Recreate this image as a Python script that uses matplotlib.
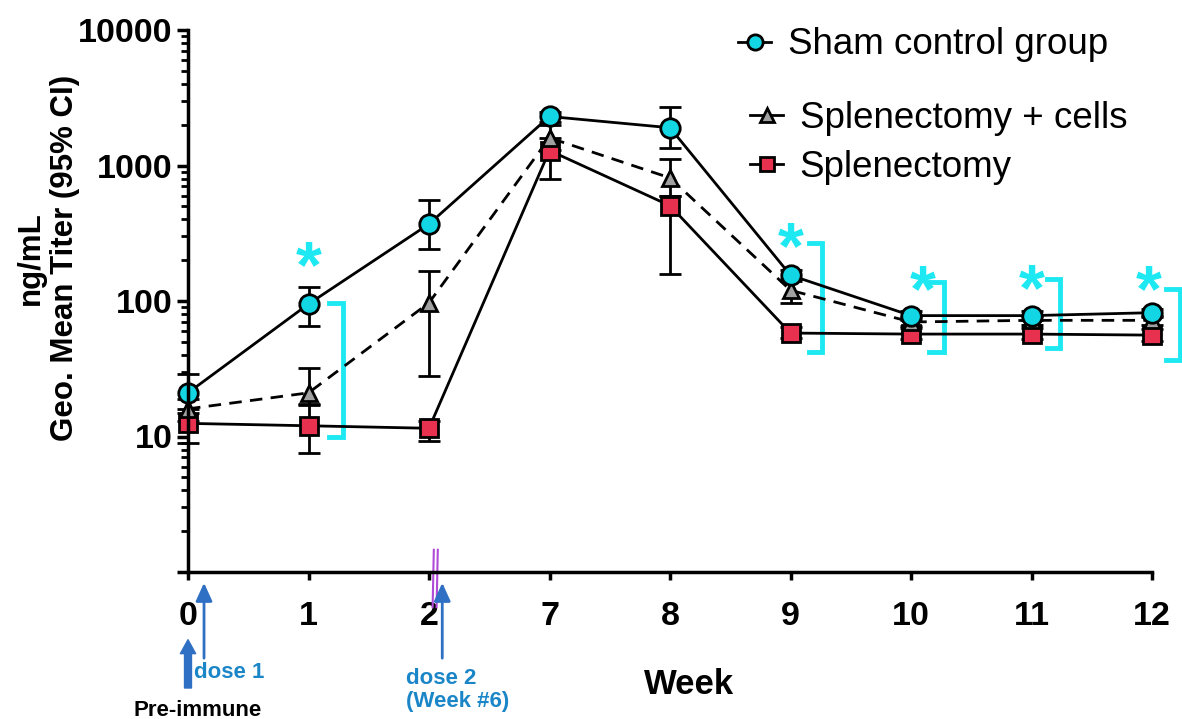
import matplotlib.pyplot as plt
import numpy as np
from matplotlib.lines import Line2D

plt.rcParams['font.family'] = ['Liberation Sans', 'DejaVu Sans']

weeks = ['0', '1', '2', '7', '8', '9', '10', '11', '12']

sham = [21, 95, 370, 2300, 1900, 155, 78, 78, 82]
sham_lo = [16, 65, 240, 2100, 1350, 140, 72, 72, 76]
sham_hi = [29, 127, 560, 2500, 2700, 170, 84, 84, 88]

splen_cells = [16, 21, 97, 1600, 810, 120, 70, 72, 72]
cells_lo = [13, 17.5, 28, 1300, 600, 97, 65, 67, 67]
cells_hi = [19, 32, 167, 1980, 1110, 145, 76, 78, 78]

splen = [12.5, 12, 11.5, 1290, 505, 58, 57, 57, 56]
splen_lo = [9, 7.5, 9.2, 790, 158, 53, 52, 52, 51]
splen_hi = [15, 17, 13, 1600, 600, 64, 63, 63, 62]

# significance brackets: (x start, x end, top, bottom) and asterisk (x, y)
brackets = [(1.17, 1.29, 97, 10), (5.15, 5.26, 270, 42), (6.15, 6.27, 138, 42),
            (7.13, 7.24, 146, 45), (8.12, 8.23, 123, 37)]
stars = [(1.0, 170), (5.0, 235), (6.1, 112), (7.0, 115), (7.97, 112)]

CYAN = '#12d6e4'
STAR = '#1ee8f2'
RED = '#e8304f'
GRAY = '#a0a0a0'
BLUE = '#2f6fc4'
DOSE = '#1a86c8'

fig = plt.figure(figsize=(11.82, 7.19), dpi=100)
ax = fig.add_axes([188 / 1182, 1 - 572 / 719, (1152 - 188) / 1182, (572 - 30) / 719])

x = np.arange(len(weeks))


def draw(y, lo, hi, marker, color, ls, ms):
    y = np.array(y)
    err = [y - np.array(lo), np.array(hi) - y]
    cont = ax.errorbar(x, y, yerr=err, fmt=marker, ls=ls, color='black', lw=2,
                       mfc=color, mec='black', mew=2, ms=ms,
                       ecolor='black', elinewidth=2, capsize=8, capthick=2)
    line, caps, bars = cont.lines
    for a in [line, *caps, *bars]:
        a.set_clip_on(False)


draw(splen, splen_lo, splen_hi, 's', RED, '-', 13)
draw(splen_cells, cells_lo, cells_hi, '^', GRAY, (0, (4.5, 3)), 12)
draw(sham, sham_lo, sham_hi, 'o', CYAN, '-', 14)

for x1, x2, top, bot in brackets:
    ax.plot([x1, x2, x2, x1], [top, top, bot, bot], color=STAR, lw=3.5,
            clip_on=False, solid_joinstyle='miter')
for sx, sy in stars:
    ax.text(sx, sy, '*', color=STAR, fontsize=48, fontweight='bold',
            ha='center', va='center')

ax.set_yscale('log')
ax.set_ylim(1, 10000)
ax.set_xlim(0, 8)
ax.set_yticks([1, 10, 100, 1000, 10000])
ax.set_yticklabels(['', '10', '100', '1000', '10000'])
ax.set_xticks(x)
ax.set_xticklabels(weeks)
for s in ['top', 'right']:
    ax.spines[s].set_visible(False)
for s in ['left', 'bottom']:
    ax.spines[s].set_linewidth(2.5)
ax.tick_params(axis='y', which='major', length=8, width=2.5, pad=3,
               labelsize=24.5)
ax.tick_params(axis='y', which='minor', length=5, width=2)
ax.tick_params(axis='x', length=6, width=2.5, pad=15, labelsize=24.5)
for lab in ax.get_xticklabels() + ax.get_yticklabels():
    lab.set_fontweight('bold')

fig.text(48 / 1182, 1 - 258 / 719, 'ng/mL\nGeo. Mean Titer (95% CI)',
         rotation=90, ha='center', va='center', multialignment='center',
         fontsize=22.5, fontweight='bold', linespacing=1.2)

xt = ax.get_xaxis_transform()
ax.text(4.16, -0.208, 'Week', transform=xt, ha='center', va='center',
        fontsize=25, fontweight='bold')

# break mark on the x axis
for bx in [2.035, 2.068]:
    ax.plot([bx - 0.005, bx + 0.005], [-0.065, 0.041], transform=xt,
            color='#b04ad8', lw=1.5, clip_on=False)

# dosing arrows and notes
ax.annotate('', xy=(0, -0.125), xytext=(0, -0.214), xycoords=xt,
            arrowprops=dict(arrowstyle='simple,head_width=0.55,head_length=0.5,tail_width=0.25',
                            color=BLUE, shrinkA=0, shrinkB=0, mutation_scale=20))
for ax_x in [0.133, 2.11]:
    ax.annotate('', xy=(ax_x, -0.020), xytext=(ax_x, -0.159), xycoords=xt,
                arrowprops=dict(arrowstyle='-|>,head_width=0.25,head_length=0.55',
                                color=BLUE, lw=2, shrinkA=0, shrinkB=0,
                                mutation_scale=20))
ax.text(0.05, -0.186, 'dose 1', transform=xt, ha='left', va='center',
        color=DOSE, fontsize=16, fontweight='bold')
ax.text(0.083, -0.255, 'Pre-immune', transform=xt, ha='center', va='center',
        color='black', fontsize=16, fontweight='bold')
ax.text(1.81, -0.218, 'dose 2\n(Week #6)', transform=xt, ha='left', va='center',
        color=DOSE, fontsize=16, fontweight='bold', linespacing=1.15)

# legend
h_sham = Line2D([], [], color='black', lw=2, marker='o', mfc=CYAN, mec='black',
                mew=2, ms=11)
h_cells = Line2D([], [], color='black', lw=2, marker='^', mfc=GRAY, mec='black',
                 mew=2, ms=10)
h_splen = Line2D([], [], color='black', lw=2, marker='s', mfc=RED, mec='black',
                 mew=2, ms=10)
leg1 = ax.legend([h_sham], ['Sham control group'], loc='center left',
                 bbox_to_anchor=(738 / 1182, 1 - 45 / 719),
                 bbox_transform=fig.transFigure, frameon=False, fontsize=26.5,
                 handlelength=0.9, handletextpad=0.45, borderpad=0,
                 borderaxespad=0)
ax.add_artist(leg1)
ax.legend([h_cells, h_splen], ['Splenectomy + cells', 'Splenectomy'],
          loc='center left', bbox_to_anchor=(750 / 1182, 1 - 143 / 719),
          bbox_transform=fig.transFigure, frameon=False, fontsize=26.5,
          handlelength=0.9, handletextpad=0.45, borderpad=0, borderaxespad=0,
          labelspacing=0.4)

fig.savefig('out.png', dpi=100)
